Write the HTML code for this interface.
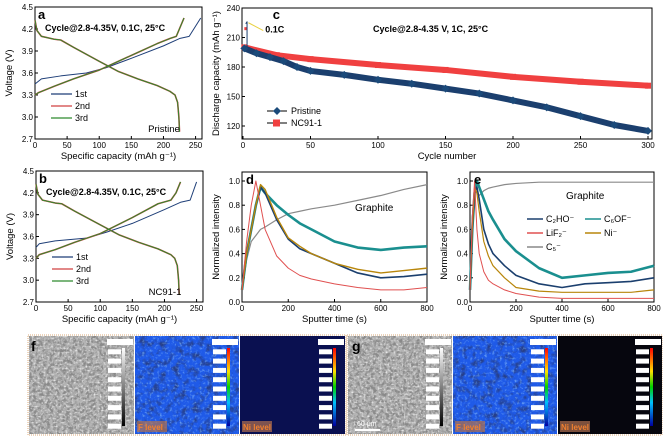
<!DOCTYPE html>
<html><head><meta charset="utf-8"><style>
body{margin:0;background:#fff;width:663px;height:440px;overflow:hidden;font-family:"Liberation Sans",sans-serif}
svg text{font-family:"Liberation Sans",sans-serif}
</style></head><body>
<svg id="fig" width="663" height="440" viewBox="0 0 663 440" xmlns="http://www.w3.org/2000/svg">
<defs>
<filter id="noiseG" x="0" y="0" width="1" height="1"><feTurbulence type="fractalNoise" baseFrequency="0.3" numOctaves="3" seed="3"/><feColorMatrix type="matrix" values="0 0 0 0 0.25  0 0 0 0 0.25  0 0 0 0 0.25  2.2 2.2 2.2 0 -2.9"/></filter>
<filter id="noiseW" x="0" y="0" width="1" height="1"><feTurbulence type="fractalNoise" baseFrequency="0.5" numOctaves="2" seed="11"/><feColorMatrix type="matrix" values="0 0 0 0 0.95  0 0 0 0 0.95  0 0 0 0 0.95  2.5 0 0 0 -1.3"/></filter>
<filter id="noiseB" x="0" y="0" width="1" height="1"><feTurbulence type="fractalNoise" baseFrequency="0.15" numOctaves="3" seed="7"/><feColorMatrix type="matrix" values="0 0 0 0 0.02  0 0 0 0 0.05  0 0 0 0 0.25  3 0 0 0 -1.4"/></filter>
<filter id="noiseL" x="0" y="0" width="1" height="1"><feTurbulence type="fractalNoise" baseFrequency="0.4" numOctaves="2" seed="5"/><feColorMatrix type="matrix" values="0 0 0 0 0.3  0 0 0 0 0.6  0 0 0 0 1  0 3 0 0 -1.6"/></filter>
<linearGradient id="rainbow" x1="0" y1="1" x2="0" y2="0"><stop offset="0" stop-color="#0000a0"/><stop offset="0.3" stop-color="#00c0ff"/><stop offset="0.5" stop-color="#00d000"/><stop offset="0.7" stop-color="#ffe000"/><stop offset="1" stop-color="#ff0000"/></linearGradient>
<linearGradient id="grayBar" x1="0" y1="1" x2="0" y2="0"><stop offset="0" stop-color="#000"/><stop offset="1" stop-color="#fff"/></linearGradient>
</defs>
</svg>
<script>
// ---- data ----
const capPriCh1=[0,10,40,80,110,150,200,225,240,258];
const vPriCh1=[3.45,3.52,3.56,3.6,3.67,3.8,3.97,4.07,4.1,4.35];
const capPriCh2=[0,5,30,60,100,130,160,190,210,220,232];
const vPriCh2=[3.3,3.33,3.42,3.52,3.64,3.76,3.88,4.0,4.07,4.1,4.35];
const capPriDis=[0,3,10,30,40,60,100,130,160,190,210,218,222,224,225];
const vPriDis=[4.32,4.18,4.1,4.06,4.05,3.95,3.76,3.62,3.52,3.43,3.35,3.3,3.2,3.0,2.8];
const capNcCh1=[0,5,30,80,110,150,200,225,240,250];
const vNcCh1=[3.45,3.5,3.54,3.58,3.66,3.78,3.97,4.07,4.1,4.35];
const capNcCh2=[0,5,30,60,100,150,190,210,218,225];
const vNcCh2=[3.3,3.35,3.42,3.52,3.64,3.86,4.05,4.1,4.2,4.35];
const capNcDis=[0,3,10,30,40,60,100,130,160,190,210,216,220,222,223];
const vNcDis=[4.32,4.18,4.1,4.06,4.05,3.95,3.76,3.62,3.52,3.43,3.35,3.3,3.2,3.0,2.8];
const cycPri=[1,10,20,30,40,50,75,100,125,150,175,200,225,250,275,300];
const capPri=[199,194,190,186,180,176,172,167,163,158,153,146,139,130,121,115];
const cycNc=[1,25,50,100,150,200,250,300];
const capNc=[200,192,188,182,177,170,165,161];
const tD=[0,20,40,60,80,100,150,200,250,300,400,500,600,700,800];
const dC2HO=[0.1,0.4,0.6,0.8,0.95,0.9,0.68,0.52,0.44,0.4,0.32,0.24,0.2,0.21,0.23];
const dLiF2=[0.1,0.5,0.8,1.0,0.8,0.6,0.38,0.28,0.22,0.19,0.15,0.12,0.1,0.1,0.12];
const dNi=[0.1,0.4,0.6,0.8,0.97,0.93,0.7,0.53,0.46,0.4,0.32,0.27,0.24,0.26,0.28];
const dC6OF=[0.1,0.4,0.6,0.8,0.95,0.9,0.8,0.72,0.65,0.6,0.5,0.45,0.43,0.45,0.46];
const dC5=[0.1,0.35,0.5,0.55,0.6,0.62,0.68,0.73,0.75,0.77,0.8,0.84,0.88,0.93,0.97];
const tE=[0,10,20,30,40,60,80,100,150,200,300,400,500,600,700,800];
const eC2HO=[0.1,0.6,0.9,0.95,0.85,0.6,0.48,0.4,0.3,0.22,0.15,0.12,0.15,0.16,0.17,0.2];
const eC6OF=[0.1,0.6,0.9,1.0,0.95,0.85,0.75,0.68,0.52,0.42,0.28,0.2,0.22,0.24,0.25,0.3];
const eLiF2=[0.1,0.7,1.0,0.6,0.4,0.25,0.18,0.15,0.1,0.07,0.04,0.03,0.03,0.03,0.03,0.03];
const eNi=[0.1,0.6,0.95,0.9,0.75,0.5,0.38,0.3,0.2,0.12,0.09,0.08,0.08,0.08,0.08,0.1];
const eC5=[0.1,0.7,0.95,0.9,0.88,0.92,0.94,0.95,0.97,0.98,0.99,0.99,0.99,0.99,0.99,0.99];
const capTicks=[0,50,100,150,200,250];
const vTicks=[2.7,3.0,3.3,3.6,3.9,4.2,4.5];
const cycTicks=[0,50,100,150,200,250,300];
const dcTicks=[120,150,180,210,240];
const tTicks=[0,200,400,600,800];
const iTicks=[0.0,0.2,0.4,0.6,0.8,1.0];

const NS='http://www.w3.org/2000/svg';
const svg=document.getElementById('fig');
function mk(tag,attrs,parent,txt){const e=document.createElementNS(NS,tag);for(const k in attrs)e.setAttribute(k,attrs[k]);if(txt!==undefined)e.textContent=txt;(parent||svg).appendChild(e);return e;}
function scale(d0,d1,r0,r1){return v=>r0+(v-d0)/(d1-d0)*(r1-r0);}

function axes(g,b,xs,ys,xt,yt,xfmt,yfmt,xtitle,ytitle,name){
  const f=mk('rect',{x:b.x0,y:b.y0,width:b.x1-b.x0,height:b.y1-b.y0,fill:'none',stroke:'#000','stroke-width':1},g);
  
  
  xt.forEach(v=>{const x=xs(v);mk('line',{x1:x,y1:b.y1,x2:x,y2:b.y1-3,stroke:'#000'},g);
    const t=mk('text',{x:x,y:b.y1+9,'font-size':8,'text-anchor':'middle'},g,xfmt(v));
    
    });
  yt.forEach(v=>{const y=ys(v);mk('line',{x1:b.x0,y1:y,x2:b.x0+3,y2:y,stroke:'#000'},g);
    const t=mk('text',{x:b.x0-2,y:y+3,'font-size':8,'text-anchor':'end'},g,yfmt(v));
    
    });
  const xtT=mk('text',{x:(b.x0+b.x1)/2,y:b.y1+20,'font-size':9.5,'text-anchor':'middle'},g,xtitle);
  
  
  const cy=(b.y0+b.y1)/2,cx=b.x0-23;
  const ytT=mk('text',{x:cx,y:cy,'font-size':9.5,'text-anchor':'middle',transform:`rotate(-90 ${cx} ${cy})`},g,ytitle);
  
  
}
function line(g,xs,ys,X,Y,color,w,name){
  const p=mk('polyline',{points:X.map((x,i)=>xs(x)+','+ys(Y[i])).join(' '),fill:'none',stroke:color,'stroke-width':w,'stroke-linejoin':'round'},g);
  
  
  return p;
}
function label(g,x,y,txt,size,name,opts){
  const t=mk('text',Object.assign({x:x,y:y,'font-size':size},opts||{}),g,txt);
  
  
  return t;
}
const f1=v=>v.toFixed(1);
const f0=v=>String(v);

// ---- panels a & b ----
function vpanel(b,name,letter,ch1,v1,ch2,v2,dis,vd,sample){
  const g=mk('g',{});
  
  
  const xs=scale(0,260,b.x0,b.x1),ys=scale(2.7,4.5,b.y1,b.y0);
  axes(g,b,xs,ys,capTicks,vTicks,f0,f1,'Specific capacity (mAh g\u207B\u00B9)','Voltage (V)',name);
  line(g,xs,ys,ch1,v1,'#1f3f78',1,name+'-1st-charge');
  line(g,xs,ys,dis,vd,'#1f3f78',1,name+'-1st-discharge');
  line(g,xs,ys,ch2,v2,'#d04040',1.6,name+'-2nd-charge');
  line(g,xs,ys,dis,vd,'#d04040',1.6,name+'-2nd-discharge');
  line(g,xs,ys,ch2,v2,'#2e8b2e',1,name+'-3rd-charge');
  line(g,xs,ys,dis,vd,'#2e8b2e',1,name+'-3rd-discharge');
  label(g,b.x0+3,b.y0+12,letter,13,name+'-panel-letter',{'font-weight':'bold','font-family':'Liberation Serif'});
  label(g,b.x0+10,b.y0+24,'Cycle@2.8-4.35V, 0.1C, 25°C',9,name+'-condition',{'font-weight':'bold','font-family':'Liberation Serif'});
  const L=[['1st','#1f3f78'],['2nd','#d04040'],['3rd','#2e8b2e']];
  L.forEach((l,i)=>{const y=b.y1-45+i*12;
    const ln=mk('line',{x1:b.x0+16,y1:y,x2:b.x0+37,y2:y,stroke:l[1],'stroke-width':1.2},g);
    
    
    label(g,b.x0+40,y+3,l[0],9,'legend-entry-'+l[0]);});
  label(g,b.x1-38,b.y1-7,sample,9.5,name+'-sample-label',{'text-anchor':'middle'});
}
vpanel({x0:35,x1:202,y0:7,y1:139},'panel-a','a',capPriCh1,vPriCh1,capPriCh2,vPriCh2,capPriDis,vPriDis,'Pristine');
vpanel({x0:36,x1:203,y0:171,y1:302},'panel-b','b',capNcCh1,vNcCh1,capNcCh2,vNcCh2,capNcDis,vNcDis,'NC91-1');

// ---- panel c ----
(function(){
  const b={x0:242,x1:652,y0:8,y1:139};
  const g=mk('g',{});
  
  
  const xs=scale(0,300,243,648),ys=scale(240,120,b.y0,126);
  axes(g,b,xs,ys,cycTicks,dcTicks,f0,f0,'Cycle number','Discharge capacity (mAh g\u207B\u00B9)','panel-c');
  line(g,xs,ys,[1,2,3],[219,219,219],'#f04040',3,'nc91-01c-cycles');
  line(g,xs,ys,cycNc,capNc,'#f04040',6,'nc91-1-series');
  cycNc.forEach((c,i)=>{const r=mk('rect',{x:xs(c)-3,y:ys(capNc[i])-3,width:6,height:6,fill:'#f04040'},g);
    
    });
  line(g,xs,ys,[2,3,3],[224,226,199],'#1b3f6e',1,'pristine-01c-cycles');
  line(g,xs,ys,cycPri,capPri,'#1b3f6e',6,'pristine-series');
  cycPri.forEach((c,i)=>{const x=xs(c),y=ys(capPri[i]);
    const d=mk('polygon',{points:`${x},${y-4} ${x+4},${y} ${x},${y+4} ${x-4},${y}`,fill:'#1b4a7a'},g);
    
    });
  const ar=mk('line',{x1:xs(4),y1:ys(225),x2:xs(15),y2:ys(217),stroke:'#e8d040','stroke-width':1},g);
  
  
  label(g,xs(15)+2,ys(215),'0.1C',9,'rate-label-01c',{'font-weight':'bold','font-family':'Liberation Serif'});
  label(g,xs(22),ys(229),'c',13,'panel-c-letter',{'font-weight':'bold','font-family':'Liberation Serif'});
  label(g,373,32,'Cycle@2.8-4.35 V, 1C, 25°C',9,'panel-c-condition',{'font-weight':'bold','font-family':'Liberation Serif'});
  [['Pristine','#1b4a7a','d'],['NC91-1','#f04040','s']].forEach((l,i)=>{const y=111+i*12,x0=267;
    const ln=mk('line',{x1:x0,y1:y,x2:x0+20,y2:y,stroke:'#000'},g);
    
    
    if(l[2]=='d')mk('polygon',{points:`${x0+10},${y-4} ${x0+14},${y} ${x0+10},${y+4} ${x0+6},${y}`,fill:l[1]},g);
    else mk('rect',{x:x0+6,y:y-3.5,width:7,height:7,fill:l[1]},g);
    label(g,x0+24,y+3,l[0],9,'legend-entry-'+l[0]);});
})();

// ---- panels d & e ----
function tofPanel(b,name,letter,T,series,legend){
  const g=mk('g',{});
  
  
  const xs=scale(0,800,b.x0,b.x1),ys=scale(0,1,b.y1,b.y0+9);
  axes(g,b,xs,ys,tTicks,iTicks,f0,f1,'Sputter time (s)','Normalized intensity',name);
  series.forEach(s=>line(g,xs,ys,T,s[0],s[1],s[2],name+'-'+s[3]));
  label(g,b.x0+4,b.y0+12,letter,13,name+'-letter',{'font-weight':'bold','font-family':'Liberation Serif'});
  if(legend){
    label(g,b.x0+96,b.y0+27,'Graphite',10,name+'-graphite-label');
    const L=[['C\u2082HO\u207B','#1b3f6e',b.x0+57,b.y0+47],['C\u2086OF\u207B','#1a8f8f',b.x0+115,b.y0+47],['LiF\u2082\u207B','#e05050',b.x0+57,b.y0+61],['Ni\u207B','#b8860b',b.x0+115,b.y0+61],['C\u2085\u207B','#888',b.x0+57,b.y0+75]];
    L.forEach(l=>{const ln=mk('line',{x1:l[2],y1:l[3],x2:l[2]+16,y2:l[3],stroke:l[1],'stroke-width':1.5},g);
      
      
      label(g,l[2]+19,l[3]+3,l[0],9,'legend-entry');});
  } else label(g,b.x0+113,b.y0+39,'Graphite',10,name+'-graphite-label');
}
tofPanel({x0:242,x1:427,y0:172,y1:302},'panel-d','d',tD,[[dC5,'#8a8a8a',1.2,'c5'],[dC6OF,'#1a8f8f',2.6,'c6of'],[dC2HO,'#1b3f6e',1.6,'c2ho'],[dNi,'#b8860b',1.4,'ni'],[dLiF2,'#e05050',1,'lif2']],false);
tofPanel({x0:470,x1:654,y0:172,y1:302},'panel-e','e',tE,[[eC5,'#8a8a8a',1.2,'c5'],[eC6OF,'#1a8f8f',2.6,'c6of'],[eC2HO,'#1b3f6e',1.6,'c2ho'],[eNi,'#b8860b',1.2,'ni'],[eLiF2,'#e05050',1,'lif2']],true);

// ---- bottom EPMA images ----
function tile(x,w,kind,name,lab){
  const g=mk('g',{});
  
  
  const y=336,h=98;
  if(kind=='sem'){mk('rect',{x:x,y:y,width:w,height:h,fill:'#b4b4b4'},g);mk('rect',{x:x,y:y,width:w,height:h,filter:'url(#noiseG)'},g);mk('rect',{x:x,y:y,width:w,height:h,filter:'url(#noiseW)'},g);}
  else if(kind=='blue'){mk('rect',{x:x,y:y,width:w,height:h,fill:'#1f5ae8'},g);mk('rect',{x:x,y:y,width:w,height:h,filter:'url(#noiseB)'},g);mk('rect',{x:x,y:y,width:w,height:h,filter:'url(#noiseL)',opacity:0.6},g);}
  else mk('rect',{x:x,y:y,width:w,height:h,fill:kind},g);
  mk('rect',{x:x+w-12,y:y+12,width:3,height:78,fill:kind=='sem'?'url(#grayBar)':'url(#rainbow)'},g);
  for(let i=0;i<10;i++)mk('rect',{x:x+w-26,y:y+4+i*9.3,width:13,height:5,fill:'#fff'},g);
  mk('rect',{x:x+w-27,y:y+3,width:26,height:6,fill:'#fff'},g);
  if(lab){mk('rect',{x:x+2,y:y+h-13,width:30,height:11,fill:'#b07050',opacity:0.7},g);
    label(g,x+3,y+h-4,lab,8,name+'-label',{'font-weight':'bold',fill:'#f08030'});}
}
mk('rect',{x:28,y:335,width:318,height:100,fill:'none',stroke:'#d8a878','stroke-dasharray':'1 1'});
mk('rect',{x:347,y:335,width:315,height:100,fill:'none',stroke:'#d8a878','stroke-dasharray':'1 1'});
tile(29,105,'sem','panel-f-sem-image');
tile(135,104,'blue','panel-f-f-map','F level');
tile(240,105,'#0a1050','panel-f-ni-map','Ni level');
tile(348,104,'sem','panel-g-sem-image');
tile(453,104,'blue','panel-g-f-map','F level');
tile(558,104,'#06060e','panel-g-ni-map','Ni level');
label(svg,31,351,'f',14,'panel-f-letter',{'font-weight':'bold','font-family':'Liberation Serif'});
label(svg,352,351,'g',14,'panel-g-letter',{'font-weight':'bold','font-family':'Liberation Serif'});
const sb=mk('line',{x1:355,y1:430,x2:380,y2:430,stroke:'#fff','stroke-width':2});


label(svg,357,426,'60 μm',7,'scale-bar-label',{fill:'#fff'});
</script>
</body></html>
